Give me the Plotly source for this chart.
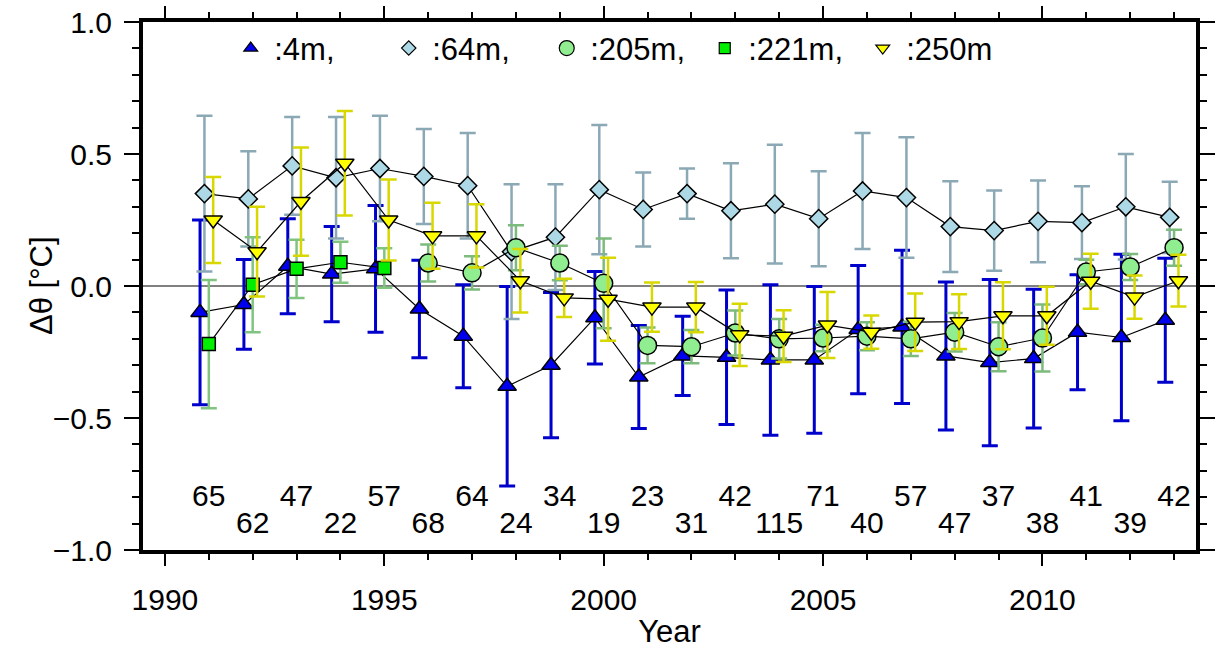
import plotly.graph_objects as go

years = list(range(1991, 2014))

# 4 m (blue triangles)
t4_val = [-0.10, -0.07, 0.075, 0.045, 0.065, -0.087, -0.19, -0.38, -0.30, -0.12, -0.345, -0.265,
          -0.27, -0.28, -0.28, -0.165, -0.155, -0.265, -0.29, -0.275, -0.175, -0.195, -0.13]
t4_err = [0.35, 0.17, 0.18, 0.18, 0.24, 0.185, 0.195, 0.378, 0.275, 0.175, 0.195, 0.15,
          0.255, 0.285, 0.278, 0.243, 0.29, 0.28, 0.315, 0.263, 0.218, 0.315, 0.235]

# 64 m (light blue diamonds)
t64_val = [0.35, 0.33, 0.455, 0.41, 0.445, 0.415, 0.38, 0.13, 0.185, 0.365, 0.29, 0.35,
           0.285, 0.31, 0.255, 0.36, 0.335, 0.225, 0.21, 0.245, 0.24, 0.30, 0.26]
t64_err = [0.295, 0.18, 0.185, 0.23, 0.20, 0.18, 0.20, 0.255, 0.20, 0.245, 0.14, 0.095,
           0.18, 0.225, 0.18, 0.22, 0.228, 0.172, 0.152, 0.155, 0.138, 0.20, 0.135]

# 205 m (light green circles), 1996-2013
years205 = list(range(1996, 2014))
t205_val = [0.087, 0.05, 0.145, 0.087, 0.01, -0.225, -0.23, -0.178, -0.20, -0.197, -0.19,
            -0.20, -0.175, -0.23, -0.197, 0.053, 0.072, 0.145]
t205_err = [0.07, 0.063, 0.085, 0.065, 0.17, 0.068, 0.063, 0.085, 0.075, 0.05, 0.053,
            0.065, 0.073, 0.093, 0.127, 0.046, 0.049, 0.068]

# 221 m (green squares), 1991-1995
years221 = list(range(1991, 1996))
t221_val = [-0.22, 0.005, 0.065, 0.09, 0.068]
t221_err = [0.243, 0.18, 0.11, 0.078, 0.075]

# 250 m (yellow down triangles)
t250_val = [0.25, 0.13, 0.32, 0.465, 0.25, 0.19, 0.19, 0.02, -0.045, -0.05, -0.08, -0.08,
            -0.185, -0.19, -0.148, -0.175, -0.137, -0.135, -0.113, -0.113, 0.018, -0.042, 0.02]
t250_err = [0.163, 0.17, 0.205, 0.198, 0.153, 0.125, 0.12, 0.12, 0.072, 0.157, 0.093, 0.095,
            0.118, 0.098, 0.125, 0.063, 0.109, 0.104, 0.127, 0.11, 0.104, 0.082, 0.098]

# number of profiles per year
counts = [65, 62, 47, 22, 57, 68, 64, 24, 34, 19, 23, 31, 42, 115, 71, 40, 57, 47, 37, 38, 41, 39, 42]

FONT = "Liberation Sans, Arial, Helvetica, sans-serif"

series = [
    dict(name=":4m,", x=years, y=t4_val, e=t4_err, off=-0.2, sym="triangle-up", size=16,
         fill="#0000EE", ecol="#0000CC", ew=3, lsize=12),
    dict(name=":64m,", x=years, y=t64_val, e=t64_err, off=-0.1, sym="diamond", size=14,
         fill="#ADD8E6", ecol="#8BA8B5", ew=2.5, lsize=11),
    dict(name=":205m,", x=years205, y=t205_val, e=t205_err, off=0.0, sym="circle", size=18,
         fill="#90EE90", ecol="#7DBB7D", ew=2.5, lsize=15),
    dict(name=":221m,", x=years221, y=t221_val, e=t221_err, off=0.0, sym="square", size=13,
         fill="#00EE00", ecol="#80C480", ew=2.5, lsize=11),
    dict(name=":250m", x=years, y=t250_val, e=t250_err, off=0.1, sym="triangle-down", size=16,
         fill="#FFFF00", ecol="#D8D800", ew=2.5, lsize=12),
]

fig = go.Figure()

for s in series:
    fig.add_trace(go.Scatter(
        x=[v + s["off"] for v in s["x"]], y=s["y"], mode="lines+markers",
        line=dict(color="black", width=1.2),
        marker=dict(symbol=s["sym"], size=s["size"], color=s["fill"],
                    line=dict(color="black", width=1.5)),
        error_y=dict(type="data", array=s["e"], visible=True, color=s["ecol"],
                     thickness=s["ew"], width=8),
        showlegend=False, hoverinfo="skip"))

# legend entries
for s in series:
    fig.add_trace(go.Scatter(
        x=[None], y=[None], mode="markers", name=s["name"],
        marker=dict(symbol=s["sym"], size=s["lsize"], color=s["fill"],
                    line=dict(color="black", width=1.2)),
        showlegend=True))

# counts text (alternating rows)
fig.add_trace(go.Scatter(
    x=years, y=[-0.805 if i % 2 == 0 else -0.907 for i in range(len(years))],
    mode="text", text=[str(c) for c in counts],
    textfont=dict(family=FONT, size=30, color="black"),
    showlegend=False, hoverinfo="skip"))

fig.update_layout(
    width=1218, height=650,
    margin=dict(l=143, r=22, t=22, b=100, autoexpand=False),
    paper_bgcolor="white", plot_bgcolor="white",
    font=dict(family=FONT, size=30, color="black"),
    legend=dict(orientation="h", x=0.080, y=0.950, xanchor="left", yanchor="middle",
                bgcolor="rgba(0,0,0,0)", font=dict(size=31), entrywidth=106,
                entrywidthmode="pixels", itemwidth=37),
    showlegend=True,
    annotations=[dict(text="Δθ [°C]", xref="paper", yref="paper", x=0, y=0.5,
                      xanchor="center", yanchor="middle", xshift=-102, textangle=-90,
                      showarrow=False, font=dict(size=31, family=FONT, color="black"))],
)

fig.update_xaxes(
    range=[1989.5, 2013.5], tick0=1990, dtick=5, ticks="outside", ticklen=12, tickwidth=2,
    tickcolor="black", showline=True, linewidth=4, linecolor="black", mirror="ticks",
    showgrid=False, zeroline=False, tickfont=dict(size=30), ticklabelstandoff=8,
    automargin=False,
    minor=dict(dtick=1, tick0=1990, ticks="outside", ticklen=6, tickwidth=2, tickcolor="black", showgrid=False),
    title=dict(text="Year", font=dict(size=31), standoff=6),
)
fig.update_yaxes(
    range=[-1, 1], tick0=0, dtick=0.5, tickformat=".1f", ticks="outside", ticklen=15, tickwidth=2,
    tickcolor="black", showline=True, linewidth=4, linecolor="black", mirror="ticks",
    showgrid=False, zeroline=True, zerolinecolor="#808080", zerolinewidth=1.5,
    tickfont=dict(size=30), ticklabelstandoff=6, automargin=False,
    minor=dict(dtick=0.1, tick0=0, ticks="outside", ticklen=7, tickwidth=2, tickcolor="black", showgrid=False),
)

fig.write_html("out.html")
